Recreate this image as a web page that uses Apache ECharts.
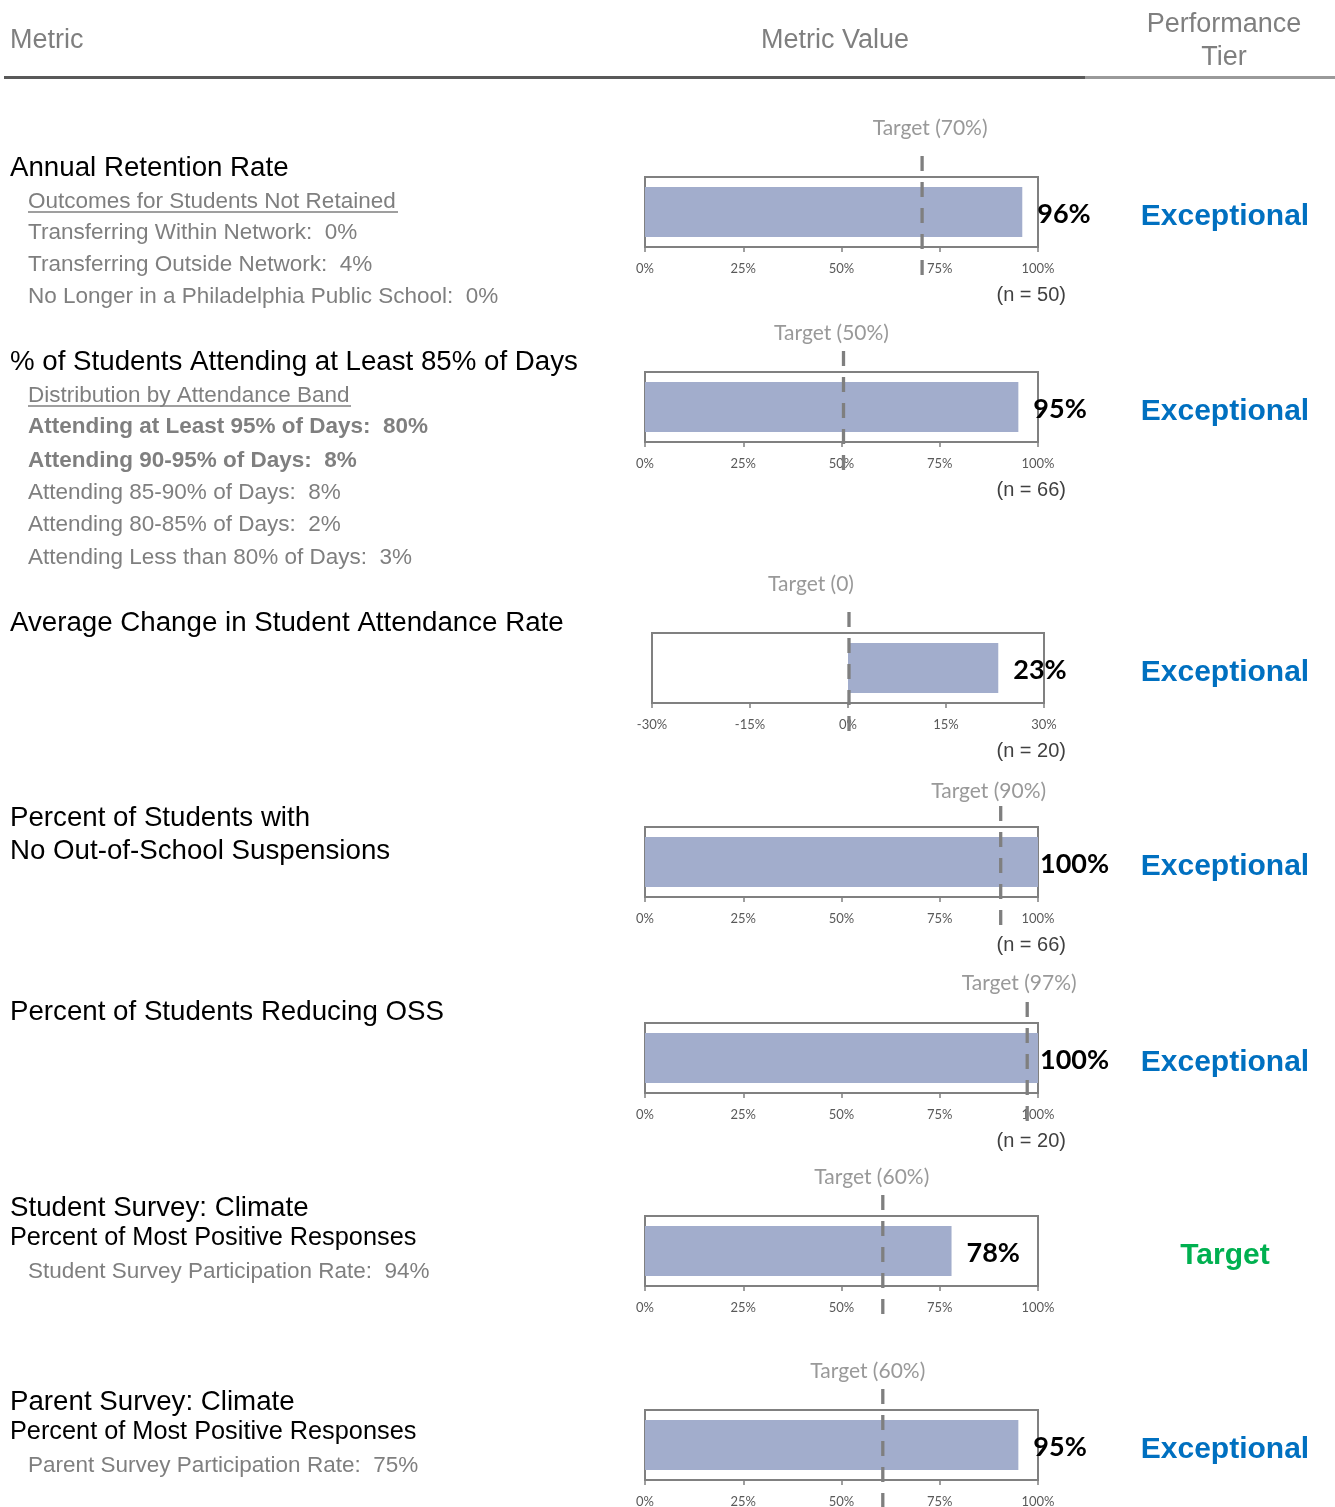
<!DOCTYPE html>
<html><head><meta charset="utf-8">
<script src="https://cdn.jsdelivr.net/npm/echarts@6/dist/echarts.min.js"></script>
<style>html,body{margin:0;padding:0;background:#fff}#c{width:1335px;height:1507px}</style>
</head><body><div id="c"></div>
<script>
// ---------- DATA ----------
const headerLabels = ['Metric', 'Metric Value', 'Performance', 'Tier'];
const metricTitles = [
  ['Annual Retention Rate'],
  ['% of Students Attending at Least 85% of Days'],
  ['Average Change in Student Attendance Rate'],
  ['Percent of Students with', 'No Out-of-School Suspensions'],
  ['Percent of Students Reducing OSS'],
  ['Student Survey: Climate'],
  ['Parent Survey: Climate']
];
const metricSubtitles = [[], [], [], [], [], ['Percent of Most Positive Responses'], ['Percent of Most Positive Responses']];
const detailHeadings = ['Outcomes for Students Not Retained', 'Distribution by Attendance Band', null, null, null, null, null];
const retentionDetails = ['Transferring Within Network:  0%', 'Transferring Outside Network:  4%', 'No Longer in a Philadelphia Public School:  0%'];
const attendanceDetails = ['Attending at Least 95% of Days:  80%', 'Attending 90-95% of Days:  8%', 'Attending 85-90% of Days:  8%', 'Attending 80-85% of Days:  2%', 'Attending Less than 80% of Days:  3%'];
const attendanceDetailBold = [true, true, false, false, false];
const surveyDetails = ['Student Survey Participation Rate:  94%', 'Parent Survey Participation Rate:  75%'];

const metricValues = [96, 95, 23, 100, 100, 78, 95];
const targetValues = [70, 50, 0, 90, 97, 60, 60];
const targetLabels = ['Target (70%)', 'Target (50%)', 'Target (0)', 'Target (90%)', 'Target (97%)', 'Target (60%)', 'Target (60%)'];
const sampleSizes = [50, 66, 20, 66, 20, null, null];
const tierLabels = ['Exceptional', 'Exceptional', 'Exceptional', 'Exceptional', 'Exceptional', 'Target', 'Exceptional'];
const axisMins = [0, 0, -30, 0, 0, 0, 0];
const axisMaxs = [100, 100, 30, 100, 100, 100, 100];
const axisIntervals = [25, 25, 15, 25, 25, 25, 25];

// ---------- LAYOUT ----------
const boxTops = [177, 372, 633, 827, 1023, 1216, 1410];
const boxLefts = [645, 645, 652, 645, 645, 645, 645];
const boxWidths = [393, 393, 392, 393, 393, 393, 393];
const overlayShift = [2, 2, 1, 2, 1, 2, 2];
const boxH = 70, lineAbove = 21, lineBelow = 28;
const tLabelShift = [[8, -49], [-12, -39], [-38, -49], [-12, -36], [-8, -40], [-11, -39], [-15, -39]];
const TY = 2.5; // vertical text baseline correction
const titleYs = [[166], [360], [621], [816, 849], [1010], [1206], [1400]];
const subtitleYs = [[], [], [], [], [], [1236], [1430]];
const headingYs = [199, 393];
const retentionYs = [230, 262, 294];
const attendanceYs = [424, 458, 490, 522, 555];
const surveyYs = [1269, 1463];

const SANS = '"Liberation Sans", Arial, sans-serif';
const CAL = 'Lato, "Open Sans", sans-serif';
const GRAY = '#7f7f7f';
const tierColors = { 'Exceptional': '#0070C0', 'Target': '#00B050' };

const grids = [], xAxes = [], yAxes = [], series = [], graphics = [];

function txt(text, x, y, font, fill, align) {
  graphics.push({ type: 'text', x: x, y: y + TY, silent: true,
    style: { text: text, font: font, fill: fill, textAlign: align || 'left', textVerticalAlign: 'middle' } });
}

metricValues.forEach((v, i) => {
  const top = boxTops[i];
  grids.push({ left: boxLefts[i], width: boxWidths[i], top: top, height: boxH, show: true,
    borderColor: '#808080', borderWidth: 2, backgroundColor: 'transparent', outerBoundsMode: 'none' });
  xAxes.push({ type: 'value', gridIndex: i, min: axisMins[i], max: axisMaxs[i], interval: axisIntervals[i],
    axisLine: { show: true, lineStyle: { color: '#808080', width: 2 } },
    axisTick: { show: true, length: 5, lineStyle: { color: '#808080', width: 1.5 } },
    splitLine: { show: false },
    axisLabel: { formatter: '{value}%', fontSize: 13, fontFamily: CAL, color: '#595959', margin: 15 } });
  yAxes.push({ type: 'category', gridIndex: i, data: [metricTitles[i][0]], show: false });
  series.push({ type: 'bar', xAxisIndex: i, yAxisIndex: i, data: [v], barWidth: 50,
    itemStyle: { color: '#A2ADCC' }, silent: true,
    label: { show: true, position: 'right', distance: v >= axisMaxs[i] ? 2 : 15, offset: [0, 2],
      formatter: p => p.value + '%', fontFamily: CAL, fontWeight: 'bold', fontSize: 27, color: '#000' } });
});

metricValues.forEach((v, i) => {
  const gi = metricValues.length + i;
  const top = boxTops[i] - lineAbove;
  grids.push({ left: boxLefts[i] + overlayShift[i], width: boxWidths[i], top: top, height: boxH + lineAbove + lineBelow, show: false, outerBoundsMode: 'none' });
  xAxes.push({ type: 'value', gridIndex: gi, min: axisMins[i], max: axisMaxs[i], show: false });
  yAxes.push({ type: 'value', gridIndex: gi, min: 0, max: 1, show: false });
  series.push({ type: 'line', xAxisIndex: gi, yAxisIndex: gi, z: 5, silent: true, symbol: 'none', clip: false,
    data: [[targetValues[i], 1], [targetValues[i], 0]],
    lineStyle: { color: '#7f7f7f', width: 3.3, type: [15, 11], cap: 'butt' } });
  series.push({ type: 'scatter', xAxisIndex: gi, yAxisIndex: gi, z: 6, silent: true, symbolSize: 1,
    itemStyle: { color: 'transparent' },
    data: [[targetValues[i], 1]],
    label: { show: true, position: 'inside', formatter: targetLabels[i],
      offset: [tLabelShift[i][0], tLabelShift[i][1] + lineAbove],
      fontFamily: CAL, fontSize: 21, color: '#808080' } });
  if (sampleSizes[i] !== null) txt('(n = ' + sampleSizes[i] + ')', 1066, boxTops[i] + 116, '20px ' + SANS, '#404040', 'right');
  txt(tierLabels[i], 1225, boxTops[i] + 37.5, 'bold 30px ' + SANS, tierColors[tierLabels[i]], 'center');
  metricTitles[i].forEach((t, k) => txt(t, 10, titleYs[i][k], '27.7px ' + SANS, '#000'));
  metricSubtitles[i].forEach((t, k) => txt(t, 10, subtitleYs[i][k], '25.3px ' + SANS, '#000'));
});

// header
txt(headerLabels[0], 10, 38, '27px ' + SANS, GRAY);
txt(headerLabels[1], 835, 38, '27px ' + SANS, GRAY, 'center');
txt(headerLabels[2], 1224, 22, '27px ' + SANS, GRAY, 'center');
txt(headerLabels[3], 1224, 55, '27px ' + SANS, GRAY, 'center');
graphics.push({ type: 'rect', silent: true, shape: { x: 4, y: 76, width: 1081, height: 3 }, style: { fill: '#595959' } });
graphics.push({ type: 'rect', silent: true, shape: { x: 1085, y: 76, width: 250, height: 3 }, style: { fill: '#9a9a9a' } });

// detail headings (underlined)
const headingUnderline = [[28, 398, 212], [28, 351, 406]];
[0, 1].forEach(k => {
  txt(detailHeadings[k], 28, headingYs[k], '22.5px ' + SANS, GRAY);
  const u = headingUnderline[k];
  graphics.push({ type: 'line', silent: true, shape: { x1: u[0], y1: u[2], x2: u[1], y2: u[2] }, style: { stroke: GRAY, lineWidth: 1.5 } });
});
retentionDetails.forEach((t, k) => txt(t, 28, retentionYs[k], '22.5px ' + SANS, GRAY));
attendanceDetails.forEach((t, k) => txt(t, 28, attendanceYs[k], (attendanceDetailBold[k] ? 'bold ' : '') + '22.5px ' + SANS, GRAY));
surveyDetails.forEach((t, k) => txt(t, 28, surveyYs[k], '22.5px ' + SANS, GRAY));

const chart = echarts.init(document.getElementById('c'), null, { renderer: 'canvas' });
chart.setOption({
  animation: false,
  backgroundColor: '#fff',
  grid: grids, xAxis: xAxes, yAxis: yAxes, series: series, graphic: graphics
});
</script></body></html>
